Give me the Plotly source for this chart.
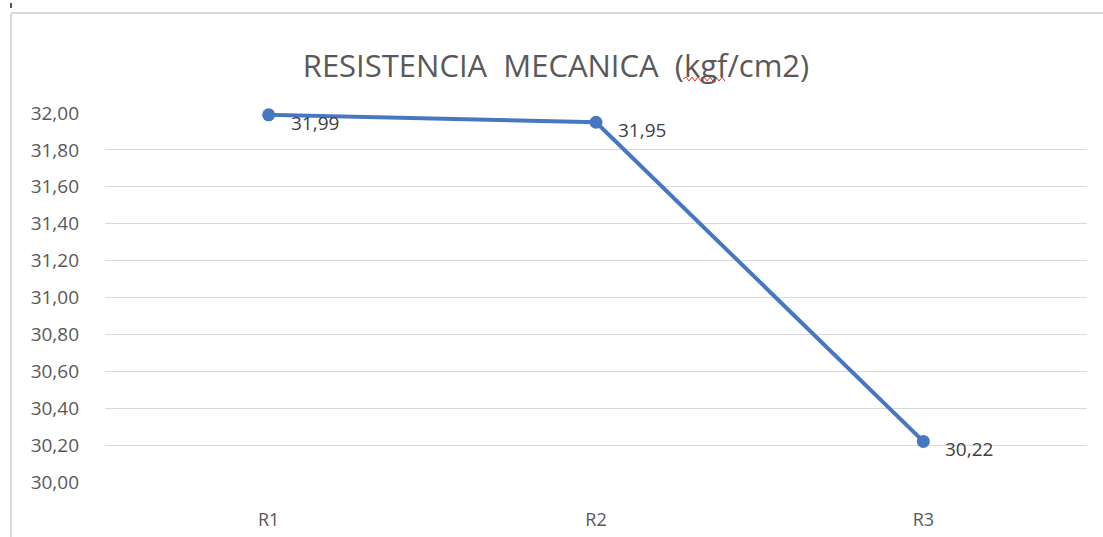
import plotly.graph_objects as go

# Mechanical strength per sample (kgf/cm2)
muestras = ["R1", "R2", "R3"]
resistencia = [31.99, 31.95, 30.22]
y_ticks = [30.0, 30.2, 30.4, 30.6, 30.8, 31.0, 31.2, 31.4, 31.6, 31.8, 32.0]

W, H = 1103, 537
ML, MR, MT, MB = 105, 16, 113, 55
PW, PH = W - ML - MR, H - MT - MB
FONT = "Open Sans, sans-serif"


def px(x):
    return (x - ML) / PW


def py(y):
    return (H - MB - y) / PH


fig = go.Figure()
fig.add_trace(go.Scatter(
    x=muestras,
    y=resistencia,
    mode="lines+markers",
    line=dict(color="#4677C0", width=4),
    marker=dict(color="#4677C0", size=13),
    cliponaxis=False,
    hoverinfo="skip",
))

# value labels, right of and slightly below each point
annotations = [
    dict(x=m, y=v, xref="x", yref="y",
         text=f"{v:.2f}".replace(".", ","),
         showarrow=False, xanchor="left", yanchor="middle",
         xshift=20, yshift=-8,
         font=dict(family=FONT, size=19, color="#404040"))
    for m, v in zip(muestras, resistencia)
]

# spell-check squiggle under "kgf" in the title
wave = "M {:.5f},{:.5f}".format(px(683), py(79))
up = True
for xx in range(686, 726, 3):
    wave += " L {:.5f},{:.5f}".format(px(xx), py(77 if up else 81))
    up = not up

shapes = [
    # chart-area frame (left and top edges)
    dict(type="line", xref="paper", yref="paper",
         x0=px(11), x1=px(11), y0=py(14), y1=py(540),
         line=dict(color="#D9D9D9", width=2)),
    dict(type="line", xref="paper", yref="paper",
         x0=px(11), x1=px(1110), y0=py(13), y1=py(13),
         line=dict(color="#D9D9D9", width=2)),
    dict(type="path", xref="paper", yref="paper", path=wave,
         line=dict(color="#E0302A", width=1)),
    dict(type="rect", xref="paper", yref="paper",
         x0=px(10), x1=px(12), y0=py(3), y1=py(8),
         fillcolor="#555555", line=dict(width=0)),
]

fig.update_layout(
    width=W, height=H,
    margin=dict(l=ML, r=MR, t=MT, b=MB, autoexpand=False),
    paper_bgcolor="white",
    plot_bgcolor="white",
    separators=",.",
    showlegend=False,
    title=dict(
        text="RESISTENCIA\u00a0\u00a0MECANICA\u00a0\u00a0(kgf/cm2)",
        x=556 / W, xref="container", xanchor="center",
        y=1 - 66 / H, yref="container", yanchor="middle",
        font=dict(family=FONT, size=31, color="#595959"),
    ),
    shapes=shapes,
    annotations=annotations,
)

fig.update_xaxes(
    type="category",
    range=[-0.5, 2.5],
    automargin=False,
    showgrid=False,
    showline=False,
    zeroline=False,
    ticks="",
    ticklabelstandoff=25,
    tickfont=dict(family=FONT, size=18, color="#595959"),
)

fig.update_yaxes(
    range=[30, 32],
    automargin=False,
    tickvals=y_ticks,
    tickformat=".2f",
    showgrid=True,
    gridcolor="#D9D9D9",
    gridwidth=1,
    zeroline=False,
    showline=False,
    ticks="",
    ticklabelstandoff=25,
    tickfont=dict(family=FONT, size=19, color="#595959"),
)

fig.write_html("out.html")
